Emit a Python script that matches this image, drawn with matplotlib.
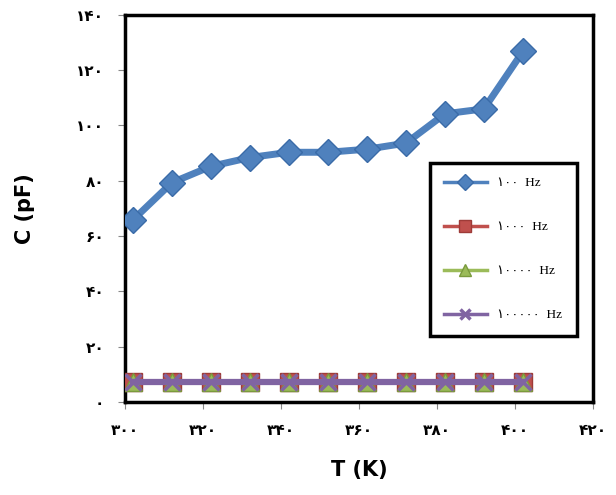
import matplotlib.pyplot as plt
import numpy as np

# data
temps = [302, 312, 322, 332, 342, 352, 362, 372, 382, 392, 402]
c_100 = [65.8, 79.3, 85.2, 88.4, 90.3, 90.3, 91.4, 93.6, 104.2, 106.0, 126.8]
c_1000 = [7.3] * 11
c_10000 = [7.3] * 11
c_100000 = [7.3] * 11

labels = ['۱۰۰  Hz', '۱۰۰۰  Hz', '۱۰۰۰۰  Hz', '۱۰۰۰۰۰  Hz']
x_ticks = [300, 320, 340, 360, 380, 400, 420]
y_ticks = [0, 20, 40, 60, 80, 100, 120, 140]

def fa(n):
    return str(n).translate(str.maketrans('0123456789', '۰۱۲۳۴۵۶۷۸۹'))

fig = plt.figure(figsize=(6.16, 4.95), dpi=100)
ax = fig.add_axes([0.203, 0.188, 0.76, 0.782])

ax.plot(temps, c_100, color='#4F81BD', lw=5, marker='D', ms=13,
        mfc='#4F81BD', mec='#3A6BA8', mew=1, label=labels[0], zorder=5)
ax.plot(temps, c_1000, color='#C0504D', lw=4, marker='s', ms=13,
        mfc='#C0504D', mec='#9E3B38', label=labels[1], zorder=3)
ax.plot(temps, c_10000, color='#9BBB59', lw=4, marker='^', ms=13,
        mfc='#9BBB59', mec='#7A9A3D', label=labels[2], zorder=3)
ax.plot(temps, c_100000, color='#8064A2', lw=4.5, marker='x', ms=12,
        mew=2.5, label=labels[3], zorder=4)

ax.set_xlim(300, 420)
ax.set_ylim(0, 140)
ax.set_xticks(x_ticks)
ax.set_yticks(y_ticks)
ax.set_xticklabels([fa(t) for t in x_ticks], fontsize=11, fontweight='bold')
ax.set_yticklabels([fa(t) for t in y_ticks], fontsize=11, fontweight='bold')
ax.tick_params(axis='both', direction='out', length=5, width=0.8,
               color='#888888', pad=10)

for s in ax.spines.values():
    s.set_linewidth(2.5)
    s.set_color('black')

ax.set_xlabel('T (K)', fontsize=15, fontweight='bold', labelpad=16)
ax.set_ylabel('C (pF)', fontsize=15, fontweight='bold', labelpad=30)

leg = ax.legend(loc='upper left', bbox_to_anchor=(0.637, 0.635),
                fancybox=False, edgecolor='black', framealpha=1,
                labelspacing=2.4, handlelength=3.2, borderpad=1.1,
                prop={'family': ['Liberation Serif', 'DejaVu Sans'], 'size': 9.5},
                markerscale=0.65)
leg.get_frame().set_linewidth(2.5)
for h in leg.legend_handles:
    h.set_linewidth(2.5)

fig.savefig('out.png', dpi=100)
